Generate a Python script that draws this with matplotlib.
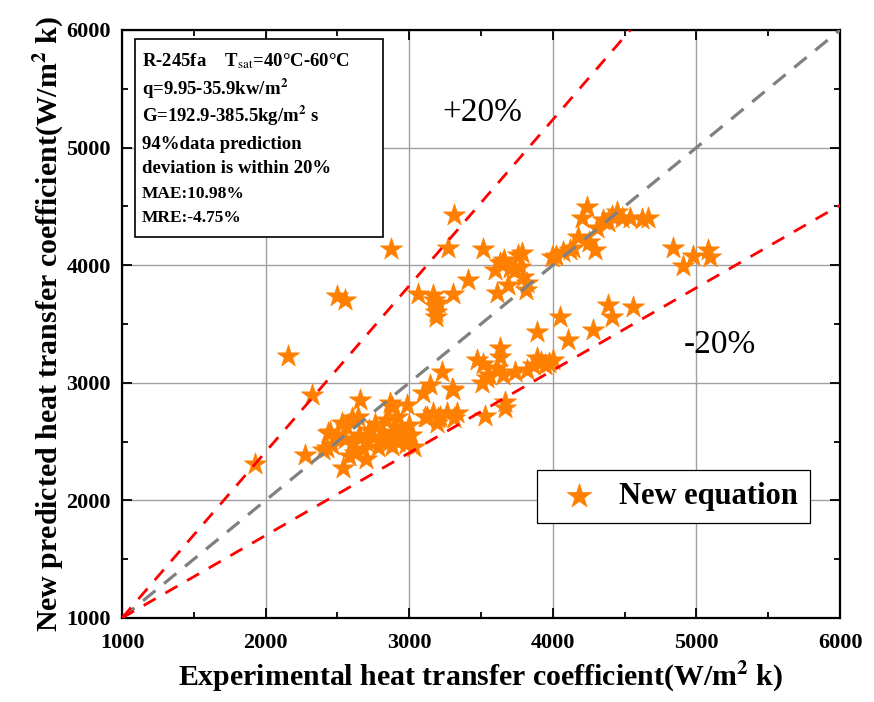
import matplotlib
matplotlib.use("Agg")
import matplotlib.pyplot as plt
from matplotlib.patches import Rectangle

plt.rcParams['font.family'] = ['Liberation Serif', 'DejaVu Serif']
plt.rcParams['mathtext.fontset'] = 'stix'

# experimental vs predicted heat transfer coefficient (W/m2 k)
exp_htc = [
    1926, 2156, 2323, 2497, 2553, 2873, 3312, 3270, 3514, 3061,
    3165, 3175, 3180, 3185, 3190, 3200, 3305, 3410, 3611, 3632,
    3660, 3786, 3772, 3793, 3820, 3810, 3737, 3702, 3598, 3653,
    3760, 3690, 3994, 4071, 4141, 4175, 4120, 4294, 4203, 4238,
    4308, 4385, 4447, 4538, 4663, 4410, 4620, 4837, 4907, 4976,
    5081, 5095, 4350, 4480, 4020, 4250,
    4385, 4412, 4559, 4050, 4280, 4106, 3890, 3632, 3632, 3472,
    3890, 4001, 3946, 3611, 3737, 3820, 3653, 3542, 3507, 3228,
    3145, 3305, 3096, 3667, 3667, 3528, 3166, 3263, 3333, 3200,
    3215, 3124, 3193, 3514, 3975, 3920, 3860, 3555,
    2657, 2643, 2532, 2435, 2274, 2539, 2400, 2985, 2880, 2915,
    2550, 2600, 2650, 2700, 2750, 2780, 2820, 2860, 2900, 2940,
    2980, 3010, 2620, 2680, 2720, 2800, 2880, 2950, 2500, 2560,
    2600, 2760, 2840, 2920, 3030, 2580, 2460, 2700, 2890, 3000,
    3310, 3300, 2428, 2448, 2866, 3110,
]
pred_htc = [
    2310, 3225, 2895, 3738, 3700, 4138, 4425, 4146, 4138, 3755,
    3750, 3700, 3650, 3600, 3560, 3680, 3755, 3874, 3765, 4019,
    4040, 4104, 3985, 3900, 3848, 3789, 3959, 3976, 3959, 4027,
    4087, 3830, 4070, 4112, 4146, 4240, 4129, 4129, 4401, 4495,
    4316, 4367, 4452, 4401, 4401, 4420, 4390, 4146, 3990, 4075,
    4129, 4070, 4380, 4400, 4080, 4200,
    3661, 3560, 3644, 3560, 3449, 3364, 3432, 3296, 3219, 3194,
    3211, 3194, 3151, 3126, 3092, 3109, 3066, 3041, 2998, 3092,
    2981, 2939, 2913, 2836, 2786, 2720, 2743, 2743, 2743, 2700,
    2709, 2709, 2658, 3160, 3170, 3180, 3150, 3070,
    2854, 2709, 2658, 2573, 2390, 2275, 2428, 2811, 2794, 2709,
    2520, 2480, 2560, 2500, 2540, 2450, 2580, 2500, 2620, 2550,
    2480, 2560, 2400, 2440, 2600, 2520, 2460, 2600, 2560, 2620,
    2700, 2650, 2680, 2500, 2450, 2380, 2470, 2350, 2560, 2640,
    2700, 2950, 2445, 2582, 2828, 2709,
]

# reference lines (end points)
diag_x, diag_y = [1000, 6000], [1000, 6000]
plus20_x, plus20_y = [1000, 4540], [1000, 6000]
minus20_x, minus20_y = [1000, 6000], [1000, 4510]

info_lines = [
    r'R-245fa    T$_{\mathrm{sat}}$=40°C-60°C',
    r'q=9.95-35.9kw/m$^{\mathbf{2}}$',
    r'G=192.9-385.5kg/m$^{\mathbf{2}}$ s',
    '94%data prediction',
    'deviation is within 20%',
    'MAE:10.98%',
    'MRE:-4.75%',
]
info_y = [0.947, 0.900, 0.854, 0.806, 0.764, 0.721, 0.680]
info_size = [13.5, 13.5, 13.5, 13.5, 13.5, 12.5, 12.5]

fig = plt.figure(figsize=(8.74, 7.02), dpi=100)
ax = fig.add_axes([0.1396, 0.1197, 0.8215, 0.8376])

ax.scatter(exp_htc, pred_htc, marker='*', s=280, color='#ff8000',
           edgecolors='#ff8000', linewidths=0.5, zorder=3, label='New equation')
ax.plot(diag_x, diag_y, color='#808080', lw=2.3, dashes=(5, 3.5), zorder=4)
ax.plot(plus20_x, plus20_y, color='#ff0000', lw=2.0, dashes=(5, 4), zorder=4)
ax.plot(minus20_x, minus20_y, color='#ff0000', lw=2.0, dashes=(5, 4), zorder=4)

ax.set_xlim(1000, 6000)
ax.set_ylim(1000, 6000)
ax.set_xticks(range(1000, 6001, 1000))
ax.set_yticks(range(1000, 6001, 1000))
ax.set_xticks(range(1500, 6000, 1000), minor=True)
ax.set_yticks(range(1500, 6000, 1000), minor=True)
ax.grid(True, which='major', color='#a0a0a0', lw=1.0, zorder=0)
ax.set_axisbelow(True)
ax.tick_params(which='both', direction='in', top=True, right=True, width=1.3)
ax.tick_params(which='major', length=7, labelsize=16)
ax.tick_params(axis='x', which='major', pad=11)
ax.tick_params(axis='y', which='major', pad=8)
ax.tick_params(which='minor', length=4)
for lab in ax.get_xticklabels() + ax.get_yticklabels():
    lab.set_fontweight('bold')
for sp in ax.spines.values():
    sp.set_linewidth(1.6)

ax.set_xlabel(r'Experimental heat transfer coefficient(W/m$^{\mathbf{2}}$ k)',
              fontsize=21.5, fontweight='bold', labelpad=5)
ax.set_ylabel(r'New predicted heat transfer coefficient(W/m$^{\mathbf{2}}$ k)',
              fontsize=21.5, fontweight='bold', labelpad=0)

ax.text(3510, 5300, '+20%', fontsize=24, ha='center', va='center')
ax.text(5160, 3320, '-20%', fontsize=24, ha='center', va='center')

ax.add_patch(Rectangle((0.018, 0.648), 0.3455, 0.337, transform=ax.transAxes,
                       facecolor='white', edgecolor='black', lw=1.2, zorder=5))
for txt, yy, fs in zip(info_lines, info_y, info_size):
    ax.text(0.028, yy, txt, transform=ax.transAxes, fontsize=fs,
            fontweight='bold', va='center', ha='left', zorder=6)

leg = ax.legend(loc='upper left', bbox_to_anchor=(0.557, 0.277), fancybox=False,
                edgecolor='black', framealpha=1, handletextpad=0.3, borderpad=0.38,
                markerscale=1.1, prop={'weight': 'bold', 'size': 22})
leg.get_frame().set_linewidth(0.9)
leg.set_zorder(6)

fig.savefig('out.png', dpi=100)
